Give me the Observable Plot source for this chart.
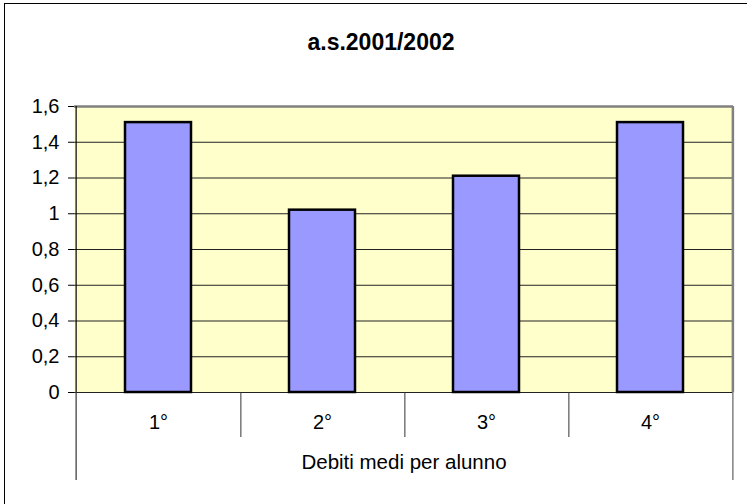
<!DOCTYPE html>
<html>
<head>
<meta charset="utf-8">
<script src="https://cdn.jsdelivr.net/npm/d3@7"></script>
<script src="https://cdn.jsdelivr.net/npm/@observablehq/plot@0.6"></script>
<style>
  html, body { margin: 0; padding: 0; background: white; }
  #wrap { position: relative; width: 747px; height: 504px; overflow: hidden; }
  #border { position: absolute; left: 4px; top: 3px; width: 800px; height: 600px;
            border-left: 1.5px solid black; border-top: 1.5px solid black; pointer-events: none; }
</style>
</head>
<body>
<div id="wrap"><div id="border"></div></div>
<script>
const title = "a.s.2001/2002";
const xLabel = "Debiti medi per alunno";
const categories = ["1°", "2°", "3°", "4°"];
const values = [1.51, 1.02, 1.21, 1.51];
const yTicks = [0, 0.2, 0.4, 0.6, 0.8, 1, 1.2, 1.4, 1.6];

const data = categories.map((c, i) => ({cat: c, value: values[i]}));
const fmt = d => String(+d.toFixed(1)).replace(".", ",");
const blank = () => "";

const W = 747, H = 504, mL = 74, mR = 14, mT = 106, mB = 112;
const step = (W - mL - mR) / categories.length;
const font = "'Liberation Sans', Arial, sans-serif";

const chart = Plot.plot({
  width: W, height: H,
  marginLeft: mL, marginRight: mR, marginTop: mT, marginBottom: mB,
  style: {fontFamily: font, background: "transparent", color: "black"},
  x: {domain: categories, paddingInner: 0.6, paddingOuter: 0.3, axis: null},
  y: {domain: [0, 1.6], axis: null},
  marks: [
    Plot.frame({fill: "#FFFFCC", stroke: null}),
    Plot.ruleY(yTicks, {stroke: "#222", strokeWidth: 1}),
    Plot.ruleY([yTicks[yTicks.length - 1]], {stroke: "#808080", strokeWidth: 2.5}),
    Plot.ruleX([categories[categories.length - 1]], {dx: step / 2, stroke: "#808080", strokeWidth: 2.5}),
    Plot.ruleX([categories[0]], {dx: -step / 2, stroke: "black", strokeWidth: 1.2}),
    Plot.barY(data, {x: "cat", y: "value", fill: "#9999FF", stroke: "black", strokeWidth: 2.5}),
    Plot.axisY({ticks: yTicks, tickFormat: fmt, tickSize: 6, tickPadding: 9, fontSize: 20, label: null, stroke: "black"}),
    Plot.axisX({tickSize: 0, tickPadding: 22, fontSize: 20, label: null}),
    Plot.axisX(categories.slice(0, -1), {tickSize: 45, dx: step / 2, tickFormat: blank, label: null, stroke: "#333", strokeWidth: 1}),
    Plot.axisX([categories[0]], {tickSize: 88, dx: -step / 2, tickFormat: blank, label: null, stroke: "#333", strokeWidth: 1.2}),
    Plot.axisX([categories[categories.length - 1]], {tickSize: 88, dx: step / 2, tickFormat: blank, label: null, stroke: "#808080", strokeWidth: 1.5}),
    Plot.text([xLabel], {frameAnchor: "bottom", text: d => d, dy: 76, fontSize: 20.5, fill: "black"}),
    Plot.text([title], {frameAnchor: "top", text: d => d, dy: -73, dx: -23, fontSize: 23, fontWeight: "bold", fill: "black"})
  ]
});
chart.style.position = "absolute";
chart.style.left = "0px";
chart.style.top = "0px";
document.getElementById("wrap").prepend(chart);
</script>
</body>
</html>
